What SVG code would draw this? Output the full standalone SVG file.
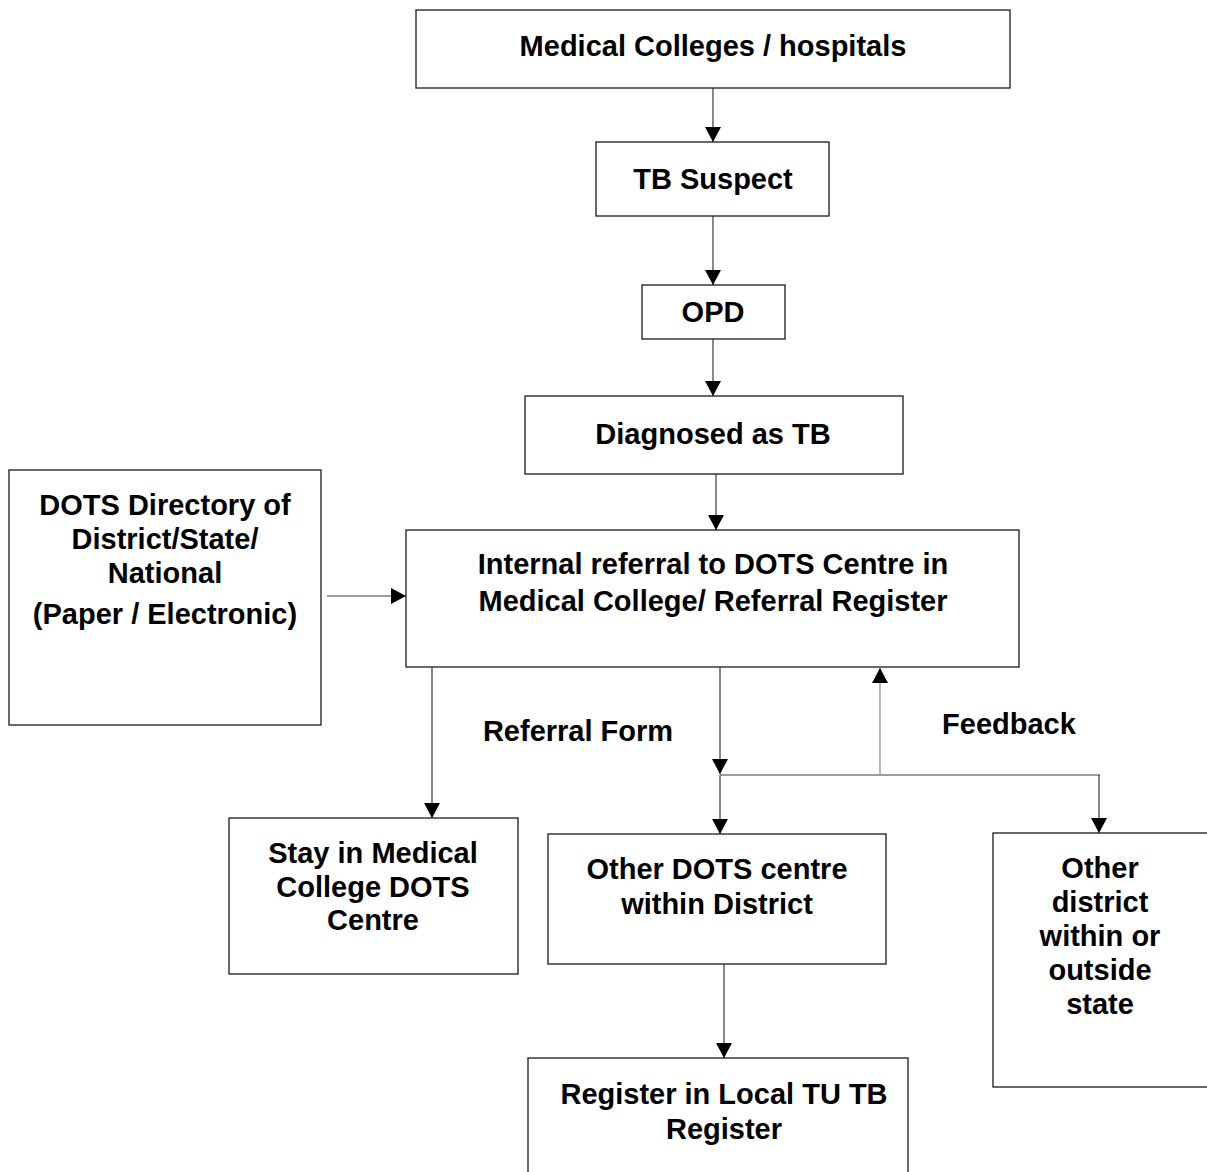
<svg xmlns="http://www.w3.org/2000/svg" width="1207" height="1172" viewBox="0 0 1207 1172">
  <style>
    .box { fill: #ffffff; stroke: #1a1a1a; stroke-width: 1.3; }
    .lbl { font-family: "Liberation Sans", Arial, sans-serif; font-weight: bold; font-size: 29px; fill: #000000; text-anchor: middle; }
    .wire { fill: none; stroke: #3a3a3a; stroke-width: 1.2; }
    .wire-light { fill: none; stroke: #888888; stroke-width: 1.2; }
  </style>
  <defs>
    <marker id="arrow" viewBox="0 0 15 16" refX="15" refY="8" markerWidth="15" markerHeight="16" markerUnits="userSpaceOnUse" orient="auto">
      <path d="M0,0 L15,8 L0,16 Z" fill="#000000"/>
    </marker>
  </defs>
  <rect width="1207" height="1172" fill="#ffffff"/>

  <g id="connectors">
    <line class="wire" x1="713" y1="88" x2="713" y2="142" marker-end="url(#arrow)"/>
    <line class="wire" x1="713" y1="216" x2="713" y2="285" marker-end="url(#arrow)"/>
    <line class="wire" x1="713" y1="339" x2="713" y2="396" marker-end="url(#arrow)"/>
    <line class="wire" x1="716" y1="474" x2="716" y2="530" marker-end="url(#arrow)"/>
    <line class="wire" x1="327" y1="596" x2="406" y2="596" marker-end="url(#arrow)"/>
    <line class="wire" x1="432" y1="667" x2="432" y2="818" marker-end="url(#arrow)"/>
    <line class="wire" x1="720" y1="667" x2="720" y2="774" marker-end="url(#arrow)"/>
    <line class="wire" x1="720" y1="775" x2="1100" y2="775"/>
    <line class="wire" x1="720" y1="775" x2="720" y2="834" marker-end="url(#arrow)"/>
    <line class="wire" x1="1099" y1="775" x2="1099" y2="833" marker-end="url(#arrow)"/>
    <line class="wire-light" x1="880" y1="774" x2="880" y2="668" marker-end="url(#arrow)"/>
    <line class="wire" x1="724" y1="964" x2="724" y2="1058" marker-end="url(#arrow)"/>
    <text class="lbl" x="578" y="741">Referral Form</text>
    <text class="lbl" x="1009" y="734">Feedback</text>
  </g>

  <g id="medical-colleges">
    <rect class="box" x="416" y="10" width="594" height="78"/>
    <text class="lbl" x="713" y="56">Medical Colleges / hospitals</text>
  </g>

  <g id="tb-suspect">
    <rect class="box" x="596" y="142" width="233" height="74"/>
    <text class="lbl" x="713" y="189">TB Suspect</text>
  </g>

  <g id="opd">
    <rect class="box" x="642" y="285" width="143" height="54"/>
    <text class="lbl" x="713" y="322">OPD</text>
  </g>

  <g id="diagnosed">
    <rect class="box" x="525" y="396" width="378" height="78"/>
    <text class="lbl" x="713" y="444">Diagnosed as TB</text>
  </g>

  <g id="dots-directory">
    <rect class="box" x="9" y="470" width="312" height="255"/>
    <text class="lbl" x="165" y="515">DOTS Directory of</text>
    <text class="lbl" x="165" y="549">District/State/</text>
    <text class="lbl" x="165" y="583">National</text>
    <text class="lbl" x="165" y="624">(Paper / Electronic)</text>
  </g>

  <g id="internal-referral">
    <rect class="box" x="406" y="530" width="613" height="137"/>
    <text class="lbl" x="713" y="574">Internal referral to DOTS Centre in</text>
    <text class="lbl" x="713" y="611">Medical College/ Referral Register</text>
  </g>

  <g id="stay-medical-college">
    <rect class="box" x="229" y="818" width="289" height="156"/>
    <text class="lbl" x="373" y="863">Stay in Medical</text>
    <text class="lbl" x="373" y="897">College DOTS</text>
    <text class="lbl" x="373" y="930">Centre</text>
  </g>

  <g id="other-dots-centre">
    <rect class="box" x="548" y="834" width="338" height="130"/>
    <text class="lbl" x="717" y="879">Other DOTS centre</text>
    <text class="lbl" x="717" y="914">within District</text>
  </g>

  <g id="other-district">
    <rect class="box" x="993" y="833" width="230" height="254"/>
    <text class="lbl" x="1100" y="878">Other</text>
    <text class="lbl" x="1100" y="912">district</text>
    <text class="lbl" x="1100" y="946">within or</text>
    <text class="lbl" x="1100" y="980">outside</text>
    <text class="lbl" x="1100" y="1014">state</text>
  </g>

  <g id="local-tu-register">
    <rect class="box" x="528" y="1058" width="380" height="130"/>
    <text class="lbl" x="724" y="1104">Register in Local TU TB</text>
    <text class="lbl" x="724" y="1139">Register</text>
  </g>
</svg>
